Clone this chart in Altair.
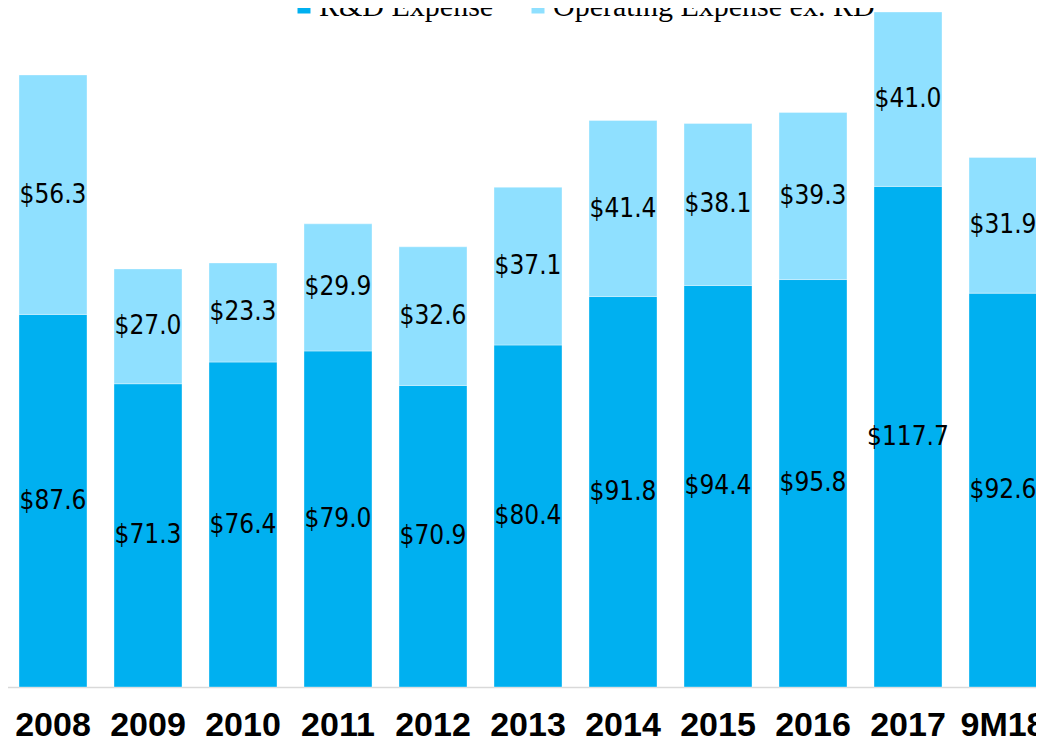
import altair as alt
import pandas as pd

years = ["2008", "2009", "2010", "2011", "2012", "2013", "2014", "2015", "2016", "2017", "9M18"]
rd_expense = [87.6, 71.3, 76.4, 79.0, 70.9, 80.4, 91.8, 94.4, 95.8, 117.7, 92.6]
opex_ex_rd = [56.3, 27.0, 23.3, 29.9, 32.6, 37.1, 41.4, 38.1, 39.3, 41.0, 31.9]
series = ["R&D Expense", "Operating Expense ex. RD"]
colors = ["#00B0F0", "#8FE0FF"]

rows = []
for i, yr in enumerate(years):
    rows.append({"year": yr, "series": series[0], "order": 0, "value": rd_expense[i]})
    rows.append({"year": yr, "series": series[1], "order": 1, "value": opex_ex_rd[i]})
df = pd.DataFrame(rows)

base = alt.Chart(df).transform_stack(
    stack="value", groupby=["year"], as_=["v0", "v1"],
    sort=[alt.SortField("order", order="ascending")]
).transform_calculate(
    mid="(datum.v0 + datum.v1) / 2",
    label="'$' + format(datum.value, '.1f')"
)

x_enc = alt.X(
    "year:N", sort=years, title=None,
    scale=alt.Scale(range=[-2, 1042], paddingInner=0.2842, paddingOuter=0.1368),
    axis=alt.Axis(
        labelFont="Liberation Sans", labelFontWeight="bold", labelFontSize=34,
        labelColor="black", labelBaseline="alphabetic", labelPadding=48,
        labelAngle=0, ticks=False, domainColor="#D9D9D9", domainWidth=1.5,
        labelOverlap=False, grid=False,
    ),
)
y_scale = alt.Scale(domain=[0, 158.7], nice=False, zero=True)

bars = base.mark_bar(stroke="white", strokeWidth=1, strokeOpacity=0.35).encode(
    x=x_enc,
    y=alt.Y("v0:Q", scale=y_scale, axis=None),
    y2="v1:Q",
    color=alt.Color(
        "series:N",
        scale=alt.Scale(domain=series, range=colors),
        legend=alt.Legend(
            title=None, orient="none", legendX=281, legendY=-20,
            direction="horizontal", symbolType="square", symbolSize=169,
            symbolStrokeWidth=0, labelFont="Liberation Serif", labelFontSize=30,
            labelColor="black", labelOffset=0, columnPadding=29, padding=0,
            labelLimit=0,
        ),
    ),
)

labels = base.mark_text(
    font="Liberation Sans Narrow, DejaVu Sans Condensed, sans-serif",
    fontSize=26, color="black", baseline="middle", align="center",
).encode(
    x=alt.X("year:N", sort=years),
    y=alt.Y("mid:Q", scale=y_scale),
    text="label:N",
)

chart = alt.layer(bars, labels).properties(
    width=1028, height=675,
    autosize=alt.AutoSizeParams(type="none"),
    padding={"left": 0, "top": 4, "right": 0, "bottom": 54},
).configure_view(stroke=None)

chart.save("out.html", embed_options={"renderer": "svg", "actions": False})
